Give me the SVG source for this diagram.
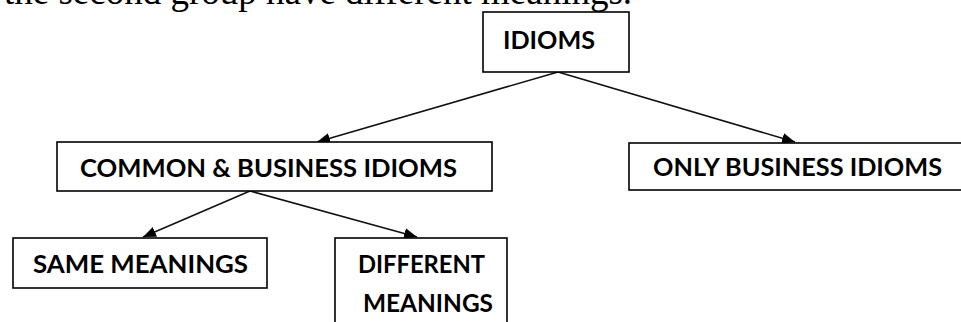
<svg xmlns="http://www.w3.org/2000/svg" width="961" height="322" viewBox="0 0 961 322">
<style>
.box{fill:#fff;stroke:#000;stroke-width:1.6}
.lbl{font-family:Lato,"Liberation Sans",sans-serif;font-weight:bold;font-size:24px;fill:#000}
.con{stroke:#111;stroke-width:1.6;fill:none;marker-end:url(#ah)}
.cap{font-family:"Liberation Serif","Times New Roman",serif;font-size:37px;fill:#000}
</style>
<defs>
<marker id="ah" markerUnits="userSpaceOnUse" markerWidth="14" markerHeight="12" viewBox="0 0 14 12" refX="13" refY="6" orient="auto">
<path d="M0,0.6 L13,6 L0,11.4 Z" fill="#000"/>
</marker>
</defs>
<text class="cap" x="4" y="4">the second group have different meanings.</text>
<g id="connectors">
<line class="con" x1="558" y1="72" x2="317" y2="142"/>
<line class="con" x1="558" y1="72" x2="795" y2="142"/>
<line class="con" x1="250" y1="191" x2="143" y2="237"/>
<line class="con" x1="250" y1="191" x2="417" y2="237"/>
</g>
<g id="idioms">
<rect class="box" x="483" y="12" width="146" height="60"/>
<text class="lbl" x="503" y="49" textLength="92" lengthAdjust="spacingAndGlyphs">IDIOMS</text>
</g>
<g id="common">
<rect class="box" x="57" y="142" width="435" height="49"/>
<text class="lbl" x="80" y="177" textLength="377" lengthAdjust="spacingAndGlyphs">COMMON &amp; BUSINESS IDIOMS</text>
</g>
<g id="only">
<rect class="box" x="629" y="143" width="336" height="47"/>
<text class="lbl" x="653" y="176" textLength="289" lengthAdjust="spacingAndGlyphs">ONLY BUSINESS IDIOMS</text>
</g>
<g id="same">
<rect class="box" x="13" y="238" width="254" height="50"/>
<text class="lbl" x="33" y="273" textLength="215" lengthAdjust="spacingAndGlyphs">SAME MEANINGS</text>
</g>
<g id="different">
<rect class="box" x="335" y="238" width="172" height="100"/>
<text class="lbl" x="358" y="273" textLength="127" lengthAdjust="spacingAndGlyphs">DIFFERENT</text>
<text class="lbl" x="363" y="312" textLength="130" lengthAdjust="spacingAndGlyphs">MEANINGS</text>
</g>
</svg>
